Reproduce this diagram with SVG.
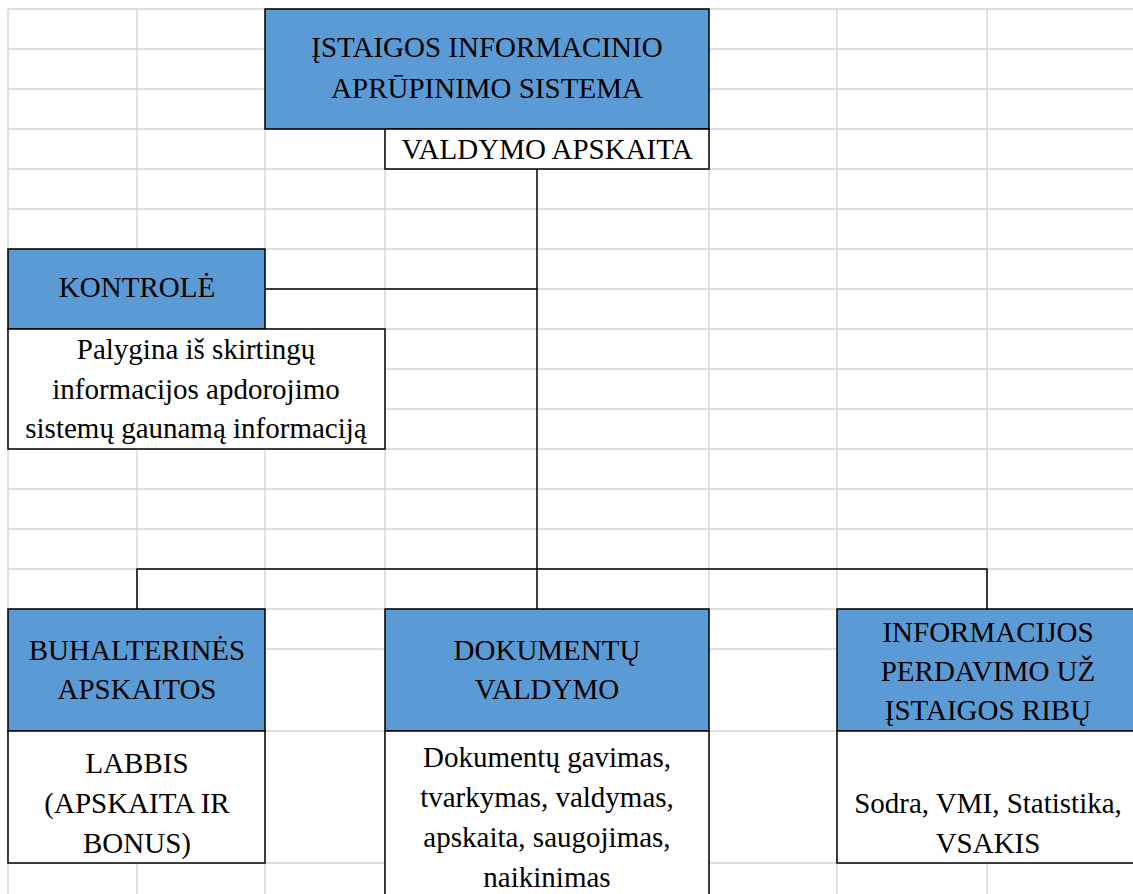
<svg xmlns="http://www.w3.org/2000/svg" width="1133" height="894" viewBox="0 0 1133 894">
<style>
.grid line{stroke:#d4d4d4;stroke-width:1.4}
.blue{fill:#5b9bd5;stroke:#000;stroke-width:1.5}
.white{fill:#fff;stroke:#000;stroke-width:1.5}
.conn path{fill:none;stroke:#000;stroke-width:1.5}
text{font-size:29px;fill:#000;text-anchor:middle}
</style>
<rect x="0" y="0" width="1133" height="894" fill="#fff"/>
<g class="grid">
<line x1="8" y1="9" x2="1133" y2="9"/>
<line x1="8" y1="49" x2="1133" y2="49"/>
<line x1="8" y1="89" x2="1133" y2="89"/>
<line x1="8" y1="129" x2="1133" y2="129"/>
<line x1="8" y1="169" x2="1133" y2="169"/>
<line x1="8" y1="209" x2="1133" y2="209"/>
<line x1="8" y1="249" x2="1133" y2="249"/>
<line x1="8" y1="289" x2="1133" y2="289"/>
<line x1="8" y1="329" x2="1133" y2="329"/>
<line x1="8" y1="369" x2="1133" y2="369"/>
<line x1="8" y1="409" x2="1133" y2="409"/>
<line x1="8" y1="449" x2="1133" y2="449"/>
<line x1="8" y1="489" x2="1133" y2="489"/>
<line x1="8" y1="529" x2="1133" y2="529"/>
<line x1="8" y1="569" x2="1133" y2="569"/>
<line x1="8" y1="609" x2="1133" y2="609"/>
<line x1="8" y1="649" x2="1133" y2="649"/>
<line x1="8" y1="731" x2="1133" y2="731"/>
<line x1="8" y1="863" x2="1133" y2="863"/>
<line x1="8" y1="9" x2="8" y2="894"/>
<line x1="137" y1="9" x2="137" y2="894"/>
<line x1="265" y1="9" x2="265" y2="894"/>
<line x1="385" y1="9" x2="385" y2="894"/>
<line x1="709" y1="9" x2="709" y2="894"/>
<line x1="837" y1="9" x2="837" y2="894"/>
<line x1="987" y1="9" x2="987" y2="894"/>
</g>
<g class="conn" id="connectors">
<path d="M537 169 V609"/>
<path d="M265 289 H537"/>
<path d="M137 609 V569 H987 V609"/>
</g>
<g font-family="Liberation Serif, Tinos, Times New Roman, DejaVu Serif, serif">
<g id="root">
<rect class="blue" x="265" y="9" width="444" height="120"/>
<text x="487" y="57">ĮSTAIGOS INFORMACINIO</text>
<text x="487" y="98">APRŪPINIMO SISTEMA</text>
</g>
<g id="valdymo-apskaita">
<rect class="white" x="385" y="129" width="324" height="40"/>
<text x="547" y="159">VALDYMO APSKAITA</text>
</g>
<g id="kontrole">
<rect class="blue" x="8" y="249" width="257" height="80"/>
<text x="137" y="297">KONTROLĖ</text>
</g>
<g id="kontrole-desc">
<rect class="white" x="8" y="329" width="377" height="120"/>
<text x="196" y="359">Palygina iš skirtingų</text>
<text x="196" y="399">informacijos apdorojimo</text>
<text x="196" y="438">sistemų gaunamą informaciją</text>
</g>
<g id="buhalterines">
<rect class="blue" x="8" y="609" width="257" height="122"/>
<text x="137" y="660">BUHALTERINĖS</text>
<text x="137" y="699">APSKAITOS</text>
</g>
<g id="buhalterines-desc">
<rect class="white" x="8" y="731" width="257" height="132"/>
<text x="137" y="773">LABBIS</text>
<text x="137" y="813">(APSKAITA IR</text>
<text x="137" y="853">BONUS)</text>
</g>
<g id="dokumentu">
<rect class="blue" x="385" y="609" width="324" height="122"/>
<text x="547" y="660">DOKUMENTŲ</text>
<text x="547" y="699">VALDYMO</text>
</g>
<g id="dokumentu-desc">
<rect class="white" x="385" y="731" width="324" height="180"/>
<text x="547" y="767">Dokumentų gavimas,</text>
<text x="547" y="807">tvarkymas, valdymas,</text>
<text x="547" y="847">apskaita, saugojimas,</text>
<text x="547" y="887">naikinimas</text>
</g>
<g id="informacijos">
<rect class="blue" x="837" y="609" width="303" height="122"/>
<text x="988" y="642">INFORMACIJOS</text>
<text x="988" y="681">PERDAVIMO UŽ</text>
<text x="988" y="720">ĮSTAIGOS RIBŲ</text>
</g>
<g id="informacijos-desc">
<rect class="white" x="837" y="731" width="303" height="132"/>
<text x="988" y="813">Sodra, VMI, Statistika,</text>
<text x="988" y="853">VSAKIS</text>
</g>
</g>
</svg>
